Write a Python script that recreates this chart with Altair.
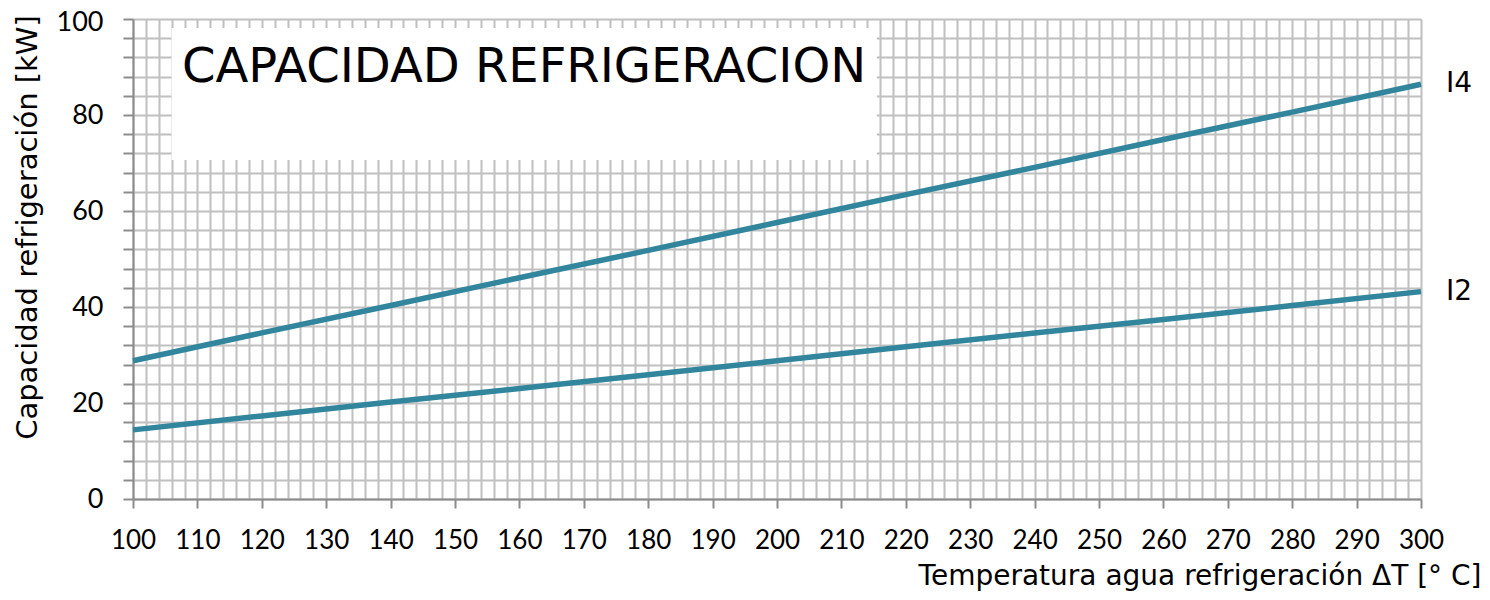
import altair as alt
import pandas as pd

# data
temps = [100, 120, 140, 160, 180, 200, 220, 240, 260, 280, 300]
cap_i2 = [14.4, 17.3, 20.2, 23.0, 25.9, 28.8, 31.7, 34.6, 37.4, 40.3, 43.2]
cap_i4 = [28.8, 34.6, 40.3, 46.1, 51.8, 57.6, 63.4, 69.1, 74.9, 80.6, 86.4]
series_names = ["I2", "I4"]
title_text = "CAPACIDAD REFRIGERACION"
box_x = [106.0, 215.5]
box_y = [70.6, 98.1]
title_pos = [107.6, 86.9]

x_grid = list(range(100, 301, 2))
y_grid = list(range(0, 101, 4))

rows = []
for t, a, b in zip(temps, cap_i2, cap_i4):
    rows.append({"t": t, "v": a, "s": "I2"})
    rows.append({"t": t, "v": b, "s": "I4"})
df = pd.DataFrame(rows)

LINE = "#31859C"
FONT_T = "DejaVu Sans"
FONT_N = "Lato"

xs = alt.Scale(domain=[100, 300], nice=False, zero=False)
ys = alt.Scale(domain=[0, 100], nice=False)

x_axis = alt.Axis(
    values=x_grid,
    labelExpr="datum.value % 10 == 0 ? datum.label : ''",
    tickOpacity={"condition": {"test": "datum.value % 10 == 0", "value": 1}, "value": 0},
    tickSize=9, tickWidth=2, tickColor="#8c8c8c",
    grid=True, gridColor="#c0c0c0", gridWidth=2,
    domainColor="#8c8c8c", domainWidth=2,
    labelFont=FONT_N, labelFontSize=26, labelColor="#000000", labelPadding=19,
    labelFlush=False, labelOverlap=False,
    title="Temperatura agua refrigeración ΔT [° C]",
    titleFont=FONT_T, titleFontSize=28, titleFontWeight="normal", titleColor="#000000",
    titleX=1348, titleY=85, titleAlign="right", titleAnchor="end", titleBaseline="alphabetic",
)
y_axis = alt.Axis(
    values=y_grid,
    labelExpr="datum.value % 20 == 0 ? datum.label : ''",
    labelOffset={"condition": {"test": "datum.value == 100", "value": 3}, "value": 0},
    tickSize=10, tickWidth=2, tickColor="#8c8c8c",
    grid=True, gridColor="#c0c0c0", gridWidth=2,
    domainColor="#8c8c8c", domainWidth=2,
    labelFont=FONT_N, labelFontSize=27, labelColor="#000000", labelPadding=20,
    labelOverlap=False, labelFlush=False,
    title="Capacidad refrigeración [kW]",
    titleFont=FONT_T, titleFontSize=29, titleFontWeight="normal", titleColor="#000000",
    titleX=-106, titleY=208, titleAngle=270, titleAlign="center", titleBaseline="middle",
)


def X(field):
    return alt.X(field, type="quantitative", scale=xs, axis=x_axis)


def Y(field):
    return alt.Y(field, type="quantitative", scale=ys, axis=y_axis)


lines = alt.Chart(df).mark_line(strokeWidth=5.5, color=LINE).encode(
    x=X("t"), y=Y("v"), detail="s:N",
)

box_df = pd.DataFrame({"x": [box_x[0]], "x2": [box_x[1]], "y": [box_y[0]], "y2": [box_y[1]]})
box = alt.Chart(box_df).mark_rect(color="white").encode(
    x=X("x"), x2="x2:Q", y=Y("y"), y2="y2:Q"
)

title_df = pd.DataFrame({"x": [title_pos[0]], "y": [title_pos[1]], "txt": [title_text]})
title = alt.Chart(title_df).mark_text(
    font=FONT_T, fontSize=48, align="left", baseline="alphabetic", color="#000000"
).encode(x=X("x"), y=Y("y"), text="txt:N")

end_df = pd.DataFrame({"t": [temps[-1], temps[-1]], "v": [cap_i2[-1], cap_i4[-1]], "s": series_names})
labels = alt.Chart(end_df).mark_text(
    font=FONT_T, fontSize=28, align="left", baseline="middle", dx=25, color="#000000"
).encode(x=X("t"), y=Y("v"), text="s:N")

chart = alt.layer(lines, box, title, labels).properties(
    width=1288, height=480,
    autosize=alt.AutoSizeParams(type="none"),
    padding={"left": 125, "top": 11, "right": 61, "bottom": 93},
).configure_view(stroke=None)

chart.save("out.html", embed_options={"renderer": "svg", "actions": False})
